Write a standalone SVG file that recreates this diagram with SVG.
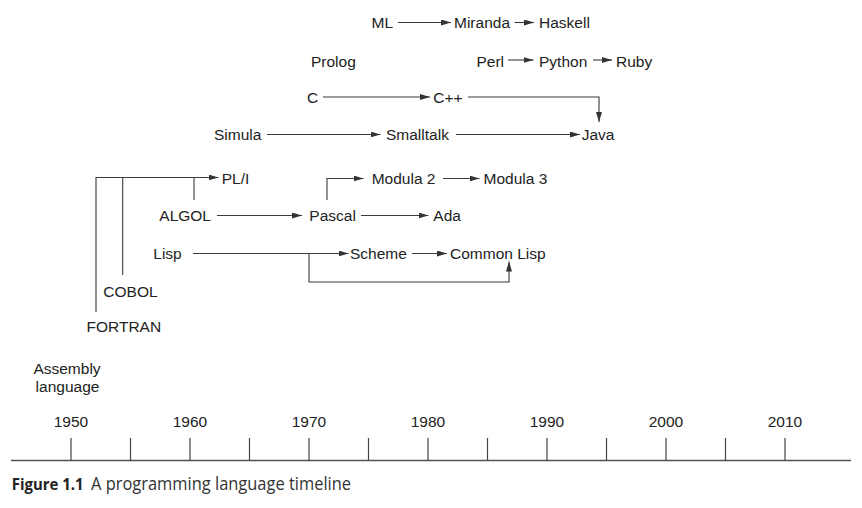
<svg xmlns="http://www.w3.org/2000/svg" width="862" height="508" viewBox="0 0 862 508">
<defs>
<marker id="ah" markerUnits="userSpaceOnUse" markerWidth="10" markerHeight="6" refX="10" refY="3" orient="auto">
<path d="M0,0 L10,3 L0,6 z" fill="#333"/>
</marker>
<style>
.t{font-family:"Liberation Sans",Arial,sans-serif;font-size:15.5px;fill:#222}
.y{font-family:"Liberation Sans",Arial,sans-serif;font-size:15.5px;fill:#222;text-anchor:middle}
.c{fill:none;stroke:#3a3a3a;stroke-width:1.1}
.a{fill:none;stroke:#3a3a3a;stroke-width:1.1;marker-end:url(#ah)}
.tk{stroke:#444;stroke-width:1.2}
</style>
</defs>
<rect width="862" height="508" fill="#fff"/>
<g id="nodes">
<g id="ml"><text class="t" x="371.5" y="28.3">ML</text></g>
<g id="miranda"><text class="t" x="454" y="28.3">Miranda</text></g>
<g id="haskell"><text class="t" x="539" y="28.3">Haskell</text></g>
<g id="prolog"><text class="t" x="311" y="66.7">Prolog</text></g>
<g id="perl"><text class="t" x="476.5" y="66.7">Perl</text></g>
<g id="python"><text class="t" x="539" y="66.7">Python</text></g>
<g id="ruby"><text class="t" x="616" y="66.7">Ruby</text></g>
<g id="c"><text class="t" x="307" y="103.3">C</text></g>
<g id="cpp"><text class="t" x="433.3" y="103.3">C++</text></g>
<g id="simula"><text class="t" x="214" y="140">Simula</text></g>
<g id="smalltalk"><text class="t" x="386" y="140">Smalltalk</text></g>
<g id="java"><text class="t" x="581.7" y="140">Java</text></g>
<g id="pl1"><text class="t" x="221.7" y="184.3">PL/I</text></g>
<g id="modula2"><text class="t" x="371.7" y="184.3">Modula 2</text></g>
<g id="modula3"><text class="t" x="483.5" y="184.3">Modula 3</text></g>
<g id="algol"><text class="t" x="159.3" y="221">ALGOL</text></g>
<g id="pascal"><text class="t" x="309.3" y="221">Pascal</text></g>
<g id="ada"><text class="t" x="433.3" y="221">Ada</text></g>
<g id="lisp"><text class="t" x="153.3" y="259.3">Lisp</text></g>
<g id="scheme"><text class="t" x="350" y="259.3">Scheme</text></g>
<g id="commonlisp"><text class="t" x="450" y="259.3">Common Lisp</text></g>
<g id="cobol"><text class="t" x="103.3" y="296.7">COBOL</text></g>
<g id="fortran"><text class="t" x="86.5" y="332.3">FORTRAN</text></g>
<g id="assembly"><text class="y" x="67" y="373.5">Assembly</text><text class="y" x="67.5" y="392">language</text></g>
</g>
<g id="connectors">
<path class="a" d="M398,22.5 H451"/>
<path class="a" d="M514.5,22.5 H534"/>
<path class="a" d="M508,60 H533.5"/>
<path class="a" d="M593,60 H612"/>
<path class="a" d="M323,97 H430"/>
<path class="a" d="M468,97 H599 V122"/>
<path class="a" d="M267,134.5 H380.5"/>
<path class="a" d="M456,134.5 H580"/>
<path class="a" d="M96,312 V177.5 H218.5"/>
<path class="c" d="M122.7,275 V177.5"/>
<path class="c" d="M194,200 V177.5"/>
<path class="a" d="M217,215.5 H302"/>
<path class="a" d="M327,200 V178.5 H363.5"/>
<path class="a" d="M443,178.5 H479.5"/>
<path class="a" d="M361,215.5 H428.5"/>
<path class="a" d="M193,253.5 H348.5"/>
<path class="a" d="M309,253.5 V282 H509 V261.5"/>
<path class="a" d="M412,253.5 H447"/>
</g>
<g id="timeline">
<path d="M11,460.5 H851" stroke="#555" stroke-width="1.3" fill="none"/>
<path class="tk" d="M71,438 V460 M130.5,438 V460 M190,438 V460 M249.5,438 V460 M309,438 V460 M368.5,438 V460 M428,438 V460 M487.5,438 V460 M547,438 V460 M606.5,438 V460 M666,438 V460 M725.5,438 V460 M785,438 V460"/>
<text class="y" x="71" y="427">1950</text>
<text class="y" x="190" y="427">1960</text>
<text class="y" x="309" y="427">1970</text>
<text class="y" x="428" y="427">1980</text>
<text class="y" x="547" y="427">1990</text>
<text class="y" x="666" y="427">2000</text>
<text class="y" x="785" y="427">2010</text>
</g>
<g id="caption">
<text x="11.7" y="490" font-family="'Open Sans',sans-serif" font-weight="bold" font-size="15.5" fill="#222" textLength="72" lengthAdjust="spacingAndGlyphs">Figure 1.1</text>
<text x="91" y="490" font-family="'Open Sans',sans-serif" font-size="19" fill="#333" textLength="260" lengthAdjust="spacingAndGlyphs">A programming language timeline</text>
</g>
</svg>
